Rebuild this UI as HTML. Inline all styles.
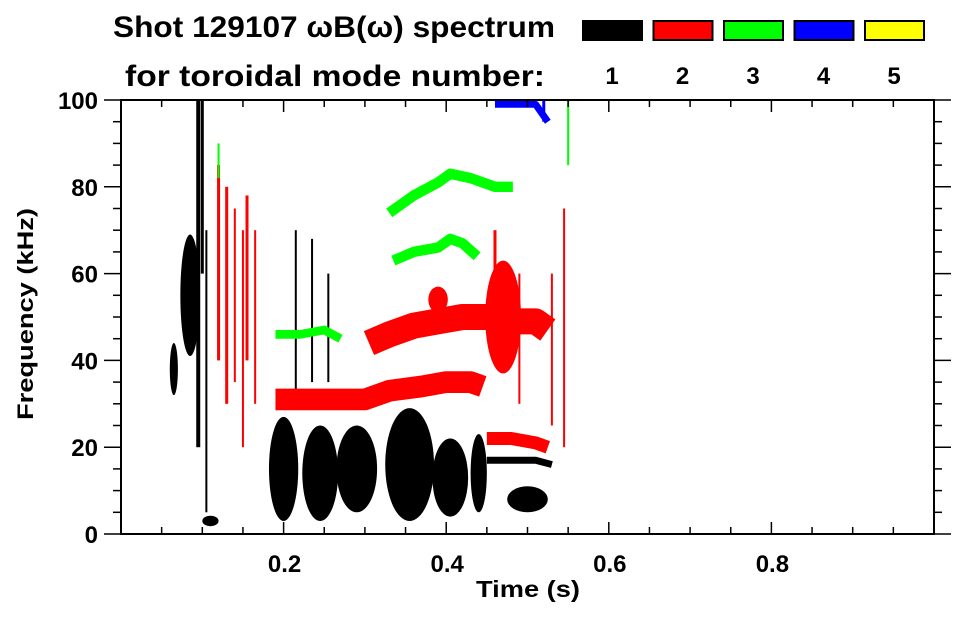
<!DOCTYPE html>
<html><head><meta charset="utf-8"><style>
body{margin:0;background:#fff}
svg text{font-family:"Liberation Sans",sans-serif;font-weight:bold;fill:#000}
</style></head><body>
<svg id="c" width="963" height="615" viewBox="0 0 963 615" xmlns="http://www.w3.org/2000/svg">
<text x="113" y="37" font-size="30" textLength="442" lengthAdjust="spacingAndGlyphs">Shot 129107 ωB(ω) spectrum</text>
<text x="125" y="86" font-size="30" textLength="420" lengthAdjust="spacingAndGlyphs">for toroidal mode number:</text>
<g id="legend"></g>
<g id="marks"></g>
<g id="axes"></g>
<text x="528" y="597" font-size="23" textLength="104" lengthAdjust="spacingAndGlyphs" text-anchor="middle">Time (s)</text>
<text transform="translate(33,314) rotate(-90)" font-size="22" textLength="212" lengthAdjust="spacingAndGlyphs" text-anchor="middle">Frequency (kHz)</text>
</svg>
<script>
const modeNames=["1","2","3","4","5"];
const modeColors=["#000000","#ff0000","#00ff00","#0000ff","#ffff00"];
const xTicks=[0.2,0.4,0.6,0.8];
const yTicks=[0,20,40,60,80,100];
// ridges: mode, times, freqs, half-width (kHz)
const ridgeMode=[1,1,1,2,2,2,0,3];
const ridgeTimes=[[0.19,0.23,0.27,0.30,0.33,0.37,0.40,0.43,0.445],
[0.305,0.33,0.36,0.39,0.42,0.45,0.48,0.51,0.525],
[0.45,0.48,0.51,0.525],
[0.335,0.36,0.39,0.405,0.42,0.438],
[0.33,0.36,0.39,0.405,0.43,0.46,0.482],
[0.19,0.22,0.25,0.27],
[0.45,0.48,0.51,0.53],
[0.46,0.49,0.51,0.525]];
const ridgeFreqs=[[31,31,31,31,33,34,35,35,34],
[44,46,48,49,50,50,49,49,47],
[22,22,21,20],
[63,65,66,68,67,64],
[74,78,81,83,82,80,80],
[46,46,47,45],
[17,17,17,16],
[99,99,99,95]];
const ridgeWidths=[2.5,3,1.5,1.2,1.2,1,0.8,0.8];
// blobs: mode, t, f, half-width t, half-height f
const blobMode=[0,0,0,0,0,0,0,0,0,1,1,0];
const blobT=[0.20,0.245,0.29,0.355,0.405,0.44,0.50,0.085,0.065,0.47,0.39,0.11];
const blobF=[15,14,15,16,13,14,8,55,38,50,54,3];
const blobDT=[0.018,0.022,0.025,0.03,0.022,0.01,0.025,0.012,0.005,0.022,0.012,0.01];
const blobDF=[12,11,10,13,9,9,3,14,6,13,3,1.2];
// vertical streaks: mode, t, f0, f1
const streakMode=[0,0,0,0,0,0,1,1,1,1,1,1,1,1,3,2,2,1,1];
const streakT=[0.095,0.1,0.215,0.235,0.255,0.105,0.12,0.13,0.14,0.15,0.155,0.165,0.545,0.53,0.52,0.12,0.55,0.46,0.49];
const streakF0=[20,60,30,35,35,5,40,30,35,20,40,30,20,25,95,82,85,55,30];
const streakF1=[100,100,70,68,60,70,85,80,75,70,78,70,75,60,100,90,100,70,60];
const streakW=[4,3,2,2,2,2,3,3,2,2,3,2,2,2,3,2,2,3,2];

const X0=121,X1=934,Y0=534,Y1=100;
const xs=t=>X0+t*(X1-X0)/1.0;
const ys=f=>Y0-f*(Y0-Y1)/100;
const NS="http://www.w3.org/2000/svg";
function mk(tag,parent,attrs){const e=document.createElementNS(NS,tag);for(const k in attrs)e.setAttribute(k,attrs[k]);parent.appendChild(e);return e;}
const marks=document.getElementById('marks'),axes=document.getElementById('axes'),legend=document.getElementById('legend');

streakT.forEach((t,i)=>{const e=mk('rect',marks,{x:xs(t)-streakW[i]/2,y:ys(streakF1[i]),width:streakW[i],height:ys(streakF0[i])-ys(streakF1[i]),fill:modeColors[streakMode[i]]});

});
blobT.forEach((t,i)=>{const e=mk('ellipse',marks,{cx:xs(t),cy:ys(blobF[i]),rx:xs(blobDT[i])-xs(0),ry:ys(0)-ys(blobDF[i]),fill:modeColors[blobMode[i]]});

});
ridgeTimes.forEach((ts,i)=>{const pts=ts.map((t,j)=>xs(t)+','+ys(ridgeFreqs[i][j])).join(' ');
const e=mk('polyline',marks,{points:pts,fill:'none',stroke:modeColors[ridgeMode[i]],'stroke-width':(ys(0)-ys(ridgeWidths[i]))*2,'stroke-linejoin':'round','stroke-linecap':'butt'});

});

mk('rect',axes,{x:X0,y:Y1,width:X1-X0,height:Y0-Y1,fill:'none',stroke:'#000','stroke-width':2});
for(let k=1;k<20;k++){const x=xs(k*0.05),L=(k%4==0)?12:7;
mk('line',axes,{x1:x,x2:x,y1:Y0,y2:Y0-L,stroke:'#000','stroke-width':1.5});
mk('line',axes,{x1:x,x2:x,y1:Y1,y2:Y1+L,stroke:'#000','stroke-width':1.5});}
for(let k=0;k<=20;k++){const y=ys(k*5),L=(k%4==0)?17:8;
mk('line',axes,{x1:X0,x2:X0-L,y1:y,y2:y,stroke:'#000','stroke-width':1.5});
mk('line',axes,{x1:X1,x2:X1+L,y1:y,y2:y,stroke:'#000','stroke-width':1.5});}
xTicks.forEach(v=>{const e=mk('text',axes,{x:xs(v)+1,y:572,'font-size':24,'text-anchor':'middle'});e.textContent=v.toFixed(1);

});
yTicks.forEach(v=>{const e=mk('text',axes,{x:98,y:ys(v)+9,'font-size':24,'text-anchor':'end'});e.textContent=v;

});
modeNames.forEach((n,i)=>{const x=582+i*70.5;
const r=mk('rect',legend,{x:x+1,y:21,width:59,height:19,fill:modeColors[i],stroke:'#000','stroke-width':2});


const t=mk('text',legend,{x:x+30,y:84,'font-size':24,'text-anchor':'middle'});t.textContent=n;

});
</script>
</body></html>
